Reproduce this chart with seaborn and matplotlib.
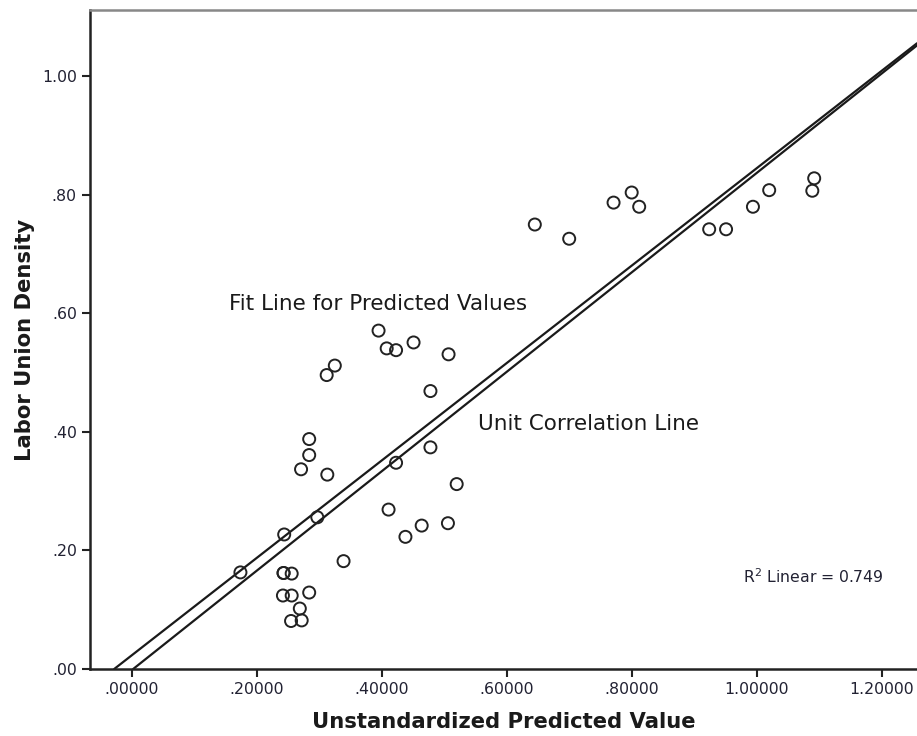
import numpy as np
import pandas as pd
import seaborn as sns
import matplotlib.pyplot as plt

# Step 1: values
predicted = [0.174, 0.244, 0.297, 0.339, 0.243, 0.243, 0.256, 0.242, 0.256, 0.284,
             0.269, 0.255, 0.272, 0.395, 0.408, 0.423, 0.451, 0.507, 0.325, 0.312,
             0.478, 0.284, 0.284, 0.271, 0.313, 0.478, 0.423, 0.520, 0.411, 0.464,
             0.506, 0.438, 0.645, 0.700, 0.771, 0.800, 0.812, 0.924, 0.951, 0.994,
             1.020, 1.092, 1.089]
density = [0.163, 0.227, 0.256, 0.182, 0.162, 0.162, 0.161, 0.124, 0.124, 0.129,
           0.102, 0.081, 0.082, 0.571, 0.541, 0.538, 0.551, 0.531, 0.512, 0.496,
           0.469, 0.388, 0.361, 0.337, 0.328, 0.374, 0.348, 0.312, 0.269, 0.242,
           0.246, 0.223, 0.750, 0.726, 0.787, 0.804, 0.780, 0.742, 0.742, 0.780,
           0.808, 0.828, 0.807]

# reference lines as (intercept, slope)
fit_line = (0.023, 0.822)
unit_line = (-0.002, 0.839)

x_ticks = [0.0, 0.2, 0.4, 0.6, 0.8, 1.0, 1.2]
x_tick_labels = ['.00000', '.20000', '.40000', '.60000', '.80000', '1.00000', '1.20000']
y_ticks = [0.0, 0.2, 0.4, 0.6, 0.8, 1.0]
y_tick_labels = ['.00', '.20', '.40', '.60', '.80', '1.00']

df = pd.DataFrame({'Unstandardized Predicted Value': predicted,
                   'Labor Union Density': density})

# Step 2: plot
sns.set_style('white')
plt.rcParams['font.family'] = ['DejaVu Sans']

fig = plt.figure(figsize=(9.17, 7.36), dpi=100)
ax = fig.add_axes([90 / 917, 1 - 669 / 736, 827 / 917, 659 / 736])

sns.scatterplot(data=df, x='Unstandardized Predicted Value', y='Labor Union Density',
                ax=ax, marker='o', s=75, facecolor='none', edgecolor='#222222',
                linewidth=1.4, zorder=3)

for b0, b1 in [fit_line, unit_line]:
    ax.axline((0, b0), slope=b1, color='#1a1a1a', lw=1.6, zorder=2)

ax.set_xlim(-0.0667, 1.2565)
ax.set_ylim(0, 1.112)
ax.set_xticks(x_ticks)
ax.set_xticklabels(x_tick_labels)
ax.set_yticks(y_ticks)
ax.set_yticklabels(y_tick_labels)
ax.tick_params(axis='both', direction='out', length=6, width=1.5, color='#222222',
               labelsize=11.3, labelcolor='#222233', left=True, bottom=True)

ax.set_xlabel('Unstandardized Predicted Value', fontsize=15.2, fontweight='bold',
              color='#1a1a1a', labelpad=11)
ax.set_ylabel('Labor Union Density', fontsize=15.2, fontweight='bold',
              color='#1a1a1a', labelpad=5)

for side in ['left', 'bottom']:
    ax.spines[side].set_color('#222222')
    ax.spines[side].set_linewidth(1.8)
ax.spines['top'].set_color('#888888')
ax.spines['top'].set_linewidth(1.8)
ax.spines['right'].set_visible(False)

ax.text(0.1557, 0.616, 'Fit Line for Predicted Values', fontsize=15.5,
        color='#1a1a1a', va='center', ha='left')
ax.text(0.554, 0.413, 'Unit Correlation Line', fontsize=15.5,
        color='#1a1a1a', va='center', ha='left')
ax.text(0.978, 0.156, r'R$^2$ Linear = 0.749', fontsize=11.3,
        color='#222233', va='center', ha='left')

plt.savefig('out.png', dpi=100)
